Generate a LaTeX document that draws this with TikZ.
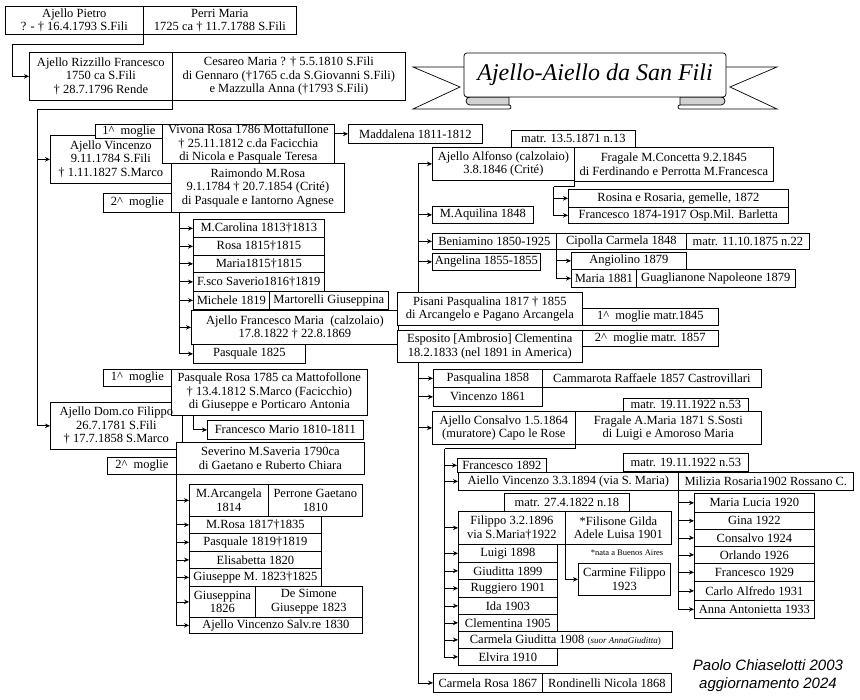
\documentclass[tikz,border=0pt]{standalone}
\usepackage{fontspec}
\setmainfont{Liberation Serif}
\setsansfont{Liberation Sans}
\usetikzlibrary{arrows.meta}
\tikzset{box/.style={draw,fill=white,anchor=north west,align=center,inner sep=0.5pt,line width=0.7pt,font=\fontsize{12.5}{13.5}\selectfont},
  arr/.style={-{Stealth[length=5pt,width=4.5pt]},line width=0.7pt},
  link/.style={line width=0.7pt},
  curl/.style={line width=0.7pt,fill=gray!35}}

\begin{document}
\begin{tikzpicture}[x=1pt,y=-1pt]
\useasboundingbox (0,0) rectangle (860,700);
% title ribbon
\draw[link] (464,67) -- (413,67) -- (460,87) -- (413,109) -- (509,109) arc[start angle=-90,end angle=90,radius=2pt];
\draw[link] (726,67) -- (777,67) -- (730,87) -- (777,109) -- (680,109) arc[start angle=270,end angle=90,radius=2pt];
\draw[curl] (466,97) -- (509,97) -- (509,105) -- (470,105) arc[start angle=270,end angle=90,radius=4pt] -- cycle;
\draw[curl] (724,97) -- (680,97) -- (680,105) -- (721,105) arc[start angle=-90,end angle=90,radius=4pt] -- cycle;
\draw[link,fill=white,rounded corners=3pt] (464,53) rectangle (726,97);
\node[font=\fontsize{24}{26}\selectfont\itshape] (title) at (595,75) {Ajello-Aiello da San Fili};
% first generations
\node[box,minimum width=138,minimum height=28] (pietro) at (5,6) {Ajello Pietro\\? - † 16.4.1793 S.Fili};
\node[box,minimum width=153,minimum height=28] (perri) at (143,6) {Perri Maria\\1725 ca † 11.7.1788 S.Fili};
\node[box,minimum width=143,minimum height=48] (rizzillo) at (29,52) {Ajello Rizzillo Francesco\\1750 ca S.Fili\\† 28.7.1796 Rende};
\node[box,minimum width=233,minimum height=48] (cesareo) at (172,52) {Cesareo Maria ? † 5.5.1810 S.Fili\\di Gennaro (†1765 c.da S.Giovanni S.Fili)\\e Mazzulla Anna (†1793 S.Fili)};
% Vincenzo and his wives
\node[box,minimum width=121,minimum height=48] (vincenzo) at (50,135) {Ajello Vincenzo\\9.11.1784 S.Fili\\† 1.11.1827 S.Marco};
\node[box,minimum width=67,minimum height=14] (mogliea) at (95,124) {1\textasciicircum~ moglie};
\node[box,minimum width=172,minimum height=39] (vivona) at (162,124) {Vivona Rosa 1786 Mottafullone\\† 25.11.1812 c.da Facicchia\\di Nicola e Pasquale Teresa};
\node[box,minimum width=134,minimum height=19] (maddalena) at (348,124) {Maddalena 1811-1812};
\node[box,minimum width=173,minimum height=49] (raimondo) at (171,163) {Raimondo M.Rosa\\9.1.1784 † 20.7.1854 (Crité)\\di Pasquale e Iantorno Agnese};
\node[box,minimum width=68,minimum height=19] (mogliab) at (103,193) {2\textasciicircum~ moglie};
\node[box,minimum width=131,minimum height=18] (carolina) at (193,219) {M.Carolina 1813†1813};
\node[box,minimum width=131,minimum height=18] (rosa15) at (193,237) {Rosa 1815†1815};
\node[box,minimum width=131,minimum height=17] (maria15) at (193,255) {Maria1815†1815};
\node[box,minimum width=131,minimum height=19] (saverio) at (193,272) {F.sco Saverio1816†1819};
\node[box,minimum width=76,minimum height=18] (michele) at (193,291) {Michele 1819};
\node[box,minimum width=119,minimum height=18] (martorelli) at (269,291) {Martorelli Giuseppina};
\node[box,minimum width=207,minimum height=34] (fmaria) at (191,310) {Ajello Francesco Maria~ (calzolaio)\\17.8.1822 † 22.8.1869};
\node[box,minimum width=112,minimum height=19] (pasq25) at (193,344) {Pasquale 1825};
% Domenico Filippo and his wives
\node[box,minimum width=68,minimum height=17] (mogliec) at (103,369) {1\textasciicircum~ moglie};
\node[box,minimum width=196,minimum height=46] (prosa) at (171,369) {Pasquale Rosa 1785 ca Mattofollone\\† 13.4.1812 S.Marco (Facicchio)\\di Giuseppe e Porticaro Antonia};
\node[box,draw=none,fill=none,minimum width=132,minimum height=47] (domco) at (50,402) {Ajello Dom.co Filippo\\26.7.1781 S.Fili\\† 17.7.1858 S.Marco};
\draw[link] (prosa.west |- domco.north) -- (domco.north west) -- (domco.south west) -- (domco.south east) -- (domco.east |- prosa.south);
\node[box,minimum width=156,minimum height=19] (fmario) at (207,420) {Francesco Mario 1810-1811};
\node[box,minimum width=188,minimum height=32] (severino) at (176,442) {Severino M.Saveria 1790ca\\di Gaetano e Ruberto Chiara};
\node[box,minimum width=69,minimum height=17] (mogliad) at (107,457) {2\textasciicircum~ moglie};
\node[box,minimum width=79,minimum height=32] (arcangela) at (189,484) {M.Arcangela\\1814};
\node[box,minimum width=94,minimum height=32] (perrone) at (268,484) {Perrone Gaetano\\1810};
\node[box,minimum width=132,minimum height=17] (mrosa) at (189,516) {M.Rosa 1817†1835};
\node[box,minimum width=132,minimum height=18] (pasq19) at (189,533) {Pasquale 1819†1819};
\node[box,minimum width=132,minimum height=17] (elisabetta) at (189,551) {Elisabetta 1820};
\node[box,minimum width=132,minimum height=18] (giuseppe) at (189,568) {Giuseppe M. 1823†1825};
\node[box,minimum width=66,minimum height=31] (giuseppina) at (189,586) {Giuseppina\\1826};
\node[box,minimum width=107,minimum height=31] (desimone) at (255,586) {De Simone\\Giuseppe 1823};
\node[box,minimum width=173,minimum height=16] (vsalv) at (189,617) {Ajello Vincenzo Salv.re 1830};
% Francesco Maria, first wife
\node[box,minimum width=124,minimum height=17] (matra) at (511,130) {matr. 13.5.1871 n.13};
\node[box,minimum width=142,minimum height=33] (alfonso) at (432,147) {Ajello Alfonso (calzolaio)\\3.8.1846 (Crité)};
\node[box,minimum width=199,minimum height=34] (fragalec) at (574,147) {Fragale M.Concetta 9.2.1845\\di Ferdinando e Perrotta M.Francesca};
\node[box,minimum width=220,minimum height=18] (rosina) at (568,189) {Rosina e Rosaria, gemelle, 1872};
\node[box,minimum width=220,minimum height=16] (fra74) at (568,207) {Francesco 1874-1917 Osp.Mil. Barletta};
\node[box,minimum width=101,minimum height=17] (aquilina) at (432,206) {M.Aquilina 1848};
\node[box,minimum width=124,minimum height=16] (beniamino) at (432,233) {Beniamino 1850-1925};
\node[box,minimum width=130,minimum height=16] (cipolla) at (556,233) {Cipolla Carmela 1848};
\node[box,minimum width=123,minimum height=16] (matrb) at (686,233) {matr. 11.10.1875 n.22};
\node[box,minimum width=108,minimum height=17] (angelina) at (432,253) {Angelina 1855-1855};
\node[box,minimum width=115,minimum height=17] (angiolino) at (571,252) {Angiolino 1879};
\node[box,minimum width=65,minimum height=18] (maria81) at (571,269) {Maria 1881};
\node[box,minimum width=159,minimum height=18] (guaglianone) at (636,269) {Guaglianone Napoleone 1879};
\node[box,minimum width=185,minimum height=33] (pisani) at (397,292) {Pisani Pasqualina 1817 † 1855\\di Arcangelo e Pagano Arcangela};
\node[box,minimum width=136,minimum height=17] (mogliee) at (582,308) {1\textasciicircum~ moglie matr.1845};
% Francesco Maria, second wife
\node[box,minimum width=185,minimum height=32] (esposito) at (397,330) {Esposito [Ambrosio] Clementina\\18.2.1833 (nel 1891 in America)};
\node[box,minimum width=136,minimum height=16] (moglief) at (582,330) {2\textasciicircum~ moglie matr. 1857};
\node[box,minimum width=109,minimum height=18] (pasqualina) at (433,369) {Pasqualina 1858};
\node[box,minimum width=219,minimum height=18] (cammarota) at (542,369) {Cammarota Raffaele 1857 Castrovillari};
\node[box,minimum width=109,minimum height=19] (vinc61) at (433,387) {Vincenzo 1861};
\node[box,minimum width=125,minimum height=13] (matrc) at (623,398) {matr. 19.11.1922 n.53};
\node[box,minimum width=143,minimum height=33] (consalvo) at (432,411) {Ajello Consalvo 1.5.1864\\(muratore) Capo le Rose};
\node[box,minimum width=186,minimum height=33] (fragalea) at (575,411) {Fragale A.Maria 1871 S.Sosti\\di Luigi e Amoroso Maria};
\node[box,minimum width=109,minimum height=19] (carmelarosa) at (433,673) {Carmela Rosa 1867};
\node[box,minimum width=129,minimum height=19] (rondinelli) at (542,673) {Rondinelli Nicola 1868};
% Consalvo's children
\node[box,minimum width=89,minimum height=14] (fra92) at (457,458) {Francesco 1892};
\node[box,minimum width=125,minimum height=18] (matrd) at (623,453) {matr. 19.11.1922 n.53};
\node[box,minimum width=220,minimum height=18] (avinc) at (458,472) {Aiello Vincenzo 3.3.1894 (via S. Maria)};
\node[box,minimum width=175,minimum height=18] (milizia) at (678,472) {Milizia Rosaria1902 Rossano C.};
\node[box,minimum width=125,minimum height=18] (matre) at (504,493) {matr. 27.4.1822 n.18};
\node[box,minimum width=107,minimum height=33] (filippo96) at (458,511) {Filippo 3.2.1896\\via S.Maria†1922};
\node[box,minimum width=106,minimum height=33] (filisone) at (565,511) {*Filisone Gilda\\Adele Luisa 1901};
\node[box,minimum width=99,minimum height=18] (luigi) at (458,544) {Luigi 1898};
\node[box,minimum width=99,minimum height=17] (giuditta) at (458,562) {Giuditta 1899};
\node[box,minimum width=99,minimum height=18] (ruggiero) at (458,579) {Ruggiero 1901};
\node[box,minimum width=99,minimum height=17] (ida) at (458,597) {Ida 1903};
\node[box,minimum width=99,minimum height=17] (clementina) at (458,614) {Clementina 1905};
\node[box,minimum width=214,minimum height=17] (carmela) at (458,631) {Carmela Giuditta 1908 {\fontsize{9}{10}\selectfont(\textit{suor AnnaGiuditta})}};
\node[box,minimum width=99,minimum height=17] (elvira) at (458,648) {Elvira 1910};
\node[font=\fontsize{8.5}{9}\selectfont] (nata) at (627,553) {*nata a Buenos Aires};
\node[box,minimum width=92,minimum height=32] (carmine) at (578,563) {Carmine Filippo\\1923};
% Aiello Vincenzo's children
\node[box,minimum width=120,minimum height=19] (marialucia) at (694,493) {Maria Lucia 1920};
\node[box,minimum width=120,minimum height=17] (gina) at (694,512) {Gina 1922};
\node[box,minimum width=120,minimum height=17] (consalvo24) at (694,529) {Consalvo 1924};
\node[box,minimum width=120,minimum height=17] (orlando) at (694,546) {Orlando 1926};
\node[box,minimum width=120,minimum height=18] (fra29) at (694,563) {Francesco 1929};
\node[box,minimum width=120,minimum height=19] (carlo) at (694,581) {Carlo Alfredo 1931};
\node[box,minimum width=120,minimum height=18] (anna) at (694,600) {Anna Antonietta 1933};
\node[font=\sffamily\itshape\fontsize{15}{18}\selectfont,align=center] (sign) at (768,676) {Paolo Chiaselotti 2003\\aggiornamento 2024};
% connectors
\coordinate (elbowA) at (12,44);
\coordinate (elbowB) at (37,109);
\draw[arr] (pietro.south east) |- (elbowA) |- (rizzillo);
\draw[arr] (rizzillo.south east) |- (elbowB) |- (domco);
\draw[arr] (elbowB |- vincenzo) -- (vincenzo);
\draw[arr] (vivona.east |- maddalena) -- (maddalena);
\coordinate (rtrunk) at ([xshift=8pt]raimondo.south west);
\draw[arr] (rtrunk) |- (pasq25);
\draw[arr] (rtrunk |- carolina) -- (carolina);
\draw[arr] (rtrunk |- rosa15) -- (rosa15);
\draw[arr] (rtrunk |- maria15) -- (maria15);
\draw[arr] (rtrunk |- saverio) -- (saverio);
\draw[arr] (rtrunk |- michele) -- (michele);
\draw[arr] (rtrunk |- fmaria) -- (fmaria);
\coordinate (ptrunk) at ([xshift=22pt]prosa.south west);
\draw[arr] (ptrunk) |- (fmario);
\draw[arr] (severino.south west) |- (vsalv);
\draw[arr] (severino.south west |- arcangela) -- (arcangela);
\draw[arr] (severino.south west |- mrosa) -- (mrosa);
\draw[arr] (severino.south west |- pasq19) -- (pasq19);
\draw[arr] (severino.south west |- elisabetta) -- (elisabetta);
\draw[arr] (severino.south west |- giuseppe) -- (giuseppe);
\draw[arr] (severino.south west |- giuseppina) -- (giuseppina);
\coordinate (pitrunk) at ([xshift=21pt]pisani.north west);
\draw[arr] (pitrunk) |- (alfonso);
\draw[arr] (pitrunk |- aquilina) -- (aquilina);
\draw[arr] (pitrunk |- beniamino) -- (beniamino);
\draw[arr] (pitrunk |- angelina) -- (angelina);
\coordinate (atrunk) at ([xshift=-21pt,yshift=-6pt]alfonso.south east);
\draw[link] (alfonso.south east) |- (atrunk);
\draw[arr] (atrunk) |- (fra74);
\draw[arr] (atrunk |- rosina) -- (rosina);
\draw[arr] (beniamino.south east) |- (maria81);
\draw[arr] (beniamino.south east |- angiolino) -- (angiolino);
\coordinate (etrunk) at ([xshift=21pt]esposito.south west);
\draw[arr] (etrunk) |- (carmelarosa);
\draw[arr] (etrunk |- pasqualina) -- (pasqualina);
\draw[arr] (etrunk |- vinc61) -- (vinc61);
\draw[arr] (etrunk |- consalvo) -- (consalvo);
\coordinate (ctrunk) at ([xshift=-131pt,yshift=-4pt]consalvo.south east);
\draw[link] (consalvo.south east) |- (ctrunk);
\draw[arr] (ctrunk) |- (elvira);
\draw[arr] (ctrunk |- fra92) -- (fra92);
\draw[arr] (ctrunk |- avinc) -- (avinc);
\draw[arr] (ctrunk |- filippo96) -- (filippo96);
\draw[arr] (ctrunk |- luigi) -- (luigi);
\draw[arr] (ctrunk |- giuditta) -- (giuditta);
\draw[arr] (ctrunk |- ruggiero) -- (ruggiero);
\draw[arr] (ctrunk |- ida) -- (ida);
\draw[arr] (ctrunk |- clementina) -- (clementina);
\draw[arr] (ctrunk |- carmela) -- (carmela);
\draw[arr] (filippo96.south east) |- (carmine);
\draw[arr] (avinc.south east) |- (anna);
\draw[arr] (avinc.south east |- marialucia) -- (marialucia);
\draw[arr] (avinc.south east |- gina) -- (gina);
\draw[arr] (avinc.south east |- consalvo24) -- (consalvo24);
\draw[arr] (avinc.south east |- orlando) -- (orlando);
\draw[arr] (avinc.south east |- fra29) -- (fra29);
\draw[arr] (avinc.south east |- carlo) -- (carlo);
\end{tikzpicture}
\end{document}
